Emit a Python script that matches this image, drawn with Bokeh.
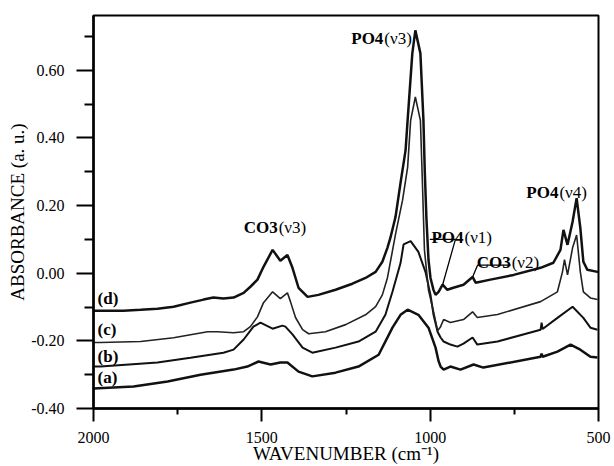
from bokeh.plotting import figure
from bokeh.models import Range1d, FixedTicker, NumeralTickFormatter, Label
from bokeh.embed import file_html
from bokeh.resources import INLINE

# ---- data ----
d_wn = [2000, 1979, 1911, 1860, 1810, 1762, 1712, 1673, 1644, 1614, 1584, 1554, 1534, 1513, 1495, 1468, 1445, 1424,
        1409, 1391, 1364, 1332, 1281, 1231, 1192, 1162, 1142, 1127, 1118, 1103, 1088, 1073, 1067, 1053, 1044, 1029,
        1020, 1016, 1011, 1005, 999, 990, 984, 975, 963, 949, 931, 901, 874, 865, 821, 752, 672, 634, 613, 604, 592,
        577, 565, 554, 545, 533, 503, 500]
d_ab = [-0.111, -0.111, -0.111, -0.108, -0.105, -0.099, -0.087, -0.078, -0.072, -0.075, -0.072, -0.058, -0.040,
        -0.019, 0.019, 0.069, 0.037, 0.054, 0.016, -0.043, -0.070, -0.064, -0.049, -0.031, -0.014, 0.004, 0.034,
        0.075, 0.105, 0.166, 0.267, 0.364, 0.452, 0.650, 0.718, 0.650, 0.452, 0.300, 0.160, 0.040, -0.014, -0.050,
        -0.064, -0.055, -0.034, -0.049, -0.043, -0.034, -0.011, -0.028, -0.019, -0.005, 0.016, 0.031, 0.069, 0.128,
        0.084, 0.152, 0.222, 0.134, 0.034, 0.010, 0.004, 0.004]

c_wn = [2000, 1979, 1860, 1762, 1712, 1661, 1632, 1584, 1554, 1534, 1513, 1495, 1468, 1445, 1424, 1415, 1400, 1379,
        1361, 1311, 1251, 1192, 1162, 1142, 1127, 1118, 1103, 1082, 1067, 1058, 1044, 1029, 1023, 1017, 1005, 990,
        978, 970, 960, 940, 901, 874, 860, 800, 672, 622, 607, 601, 592, 577, 565, 554, 545, 524, 503]
c_ab = [-0.205, -0.205, -0.202, -0.191, -0.182, -0.173, -0.173, -0.176, -0.173, -0.158, -0.129, -0.087, -0.055,
        -0.075, -0.058, -0.084, -0.131, -0.167, -0.179, -0.173, -0.152, -0.123, -0.099, -0.064, -0.014, 0.034, 0.115,
        0.216, 0.313, 0.452, 0.521, 0.452, 0.267, 0.069, -0.050, -0.114, -0.170, -0.160, -0.137, -0.146, -0.137,
        -0.114, -0.131, -0.122, -0.084, -0.055, 0.004, 0.040, -0.005, 0.075, 0.113, 0.004, -0.055, -0.073, -0.078]

b_wn = [2000, 1979, 1810, 1712, 1614, 1584, 1554, 1525, 1504, 1468, 1439, 1430, 1409, 1379, 1350, 1281, 1213, 1162,
        1133, 1112, 1088, 1079, 1058, 1035, 1014, 999, 990, 978, 969, 960, 940, 919, 901, 874, 860, 800, 672, 669,
        666, 622, 577, 545, 524, 503]
b_ab = [-0.276, -0.276, -0.264, -0.250, -0.235, -0.226, -0.196, -0.158, -0.146, -0.164, -0.155, -0.158, -0.181,
        -0.220, -0.235, -0.220, -0.202, -0.173, -0.123, -0.055, 0.030, 0.085, 0.095, 0.063, 0.004, -0.064, -0.123,
        -0.173, -0.190, -0.202, -0.211, -0.217, -0.208, -0.190, -0.211, -0.202, -0.167, -0.146, -0.165, -0.132,
        -0.099, -0.132, -0.161, -0.167]

a_wn = [2000, 1881, 1780, 1682, 1584, 1543, 1510, 1474, 1445, 1424, 1391, 1350, 1281, 1213, 1153, 1112, 1088, 1067,
        1035, 1005, 984, 975, 969, 960, 940, 910, 871, 842, 672, 669, 666, 622, 583, 554, 524, 503]
a_ab = [-0.341, -0.335, -0.320, -0.300, -0.285, -0.276, -0.261, -0.270, -0.264, -0.264, -0.291, -0.305, -0.294,
        -0.276, -0.241, -0.161, -0.123, -0.108, -0.123, -0.161, -0.220, -0.260, -0.276, -0.285, -0.276, -0.285,
        -0.270, -0.279, -0.247, -0.238, -0.247, -0.232, -0.211, -0.226, -0.247, -0.249]

series_names = ["(a)", "(b)", "(c)", "(d)"]
y_ticks = [-0.40, -0.20, 0.00, 0.20, 0.40, 0.60]
y_minor = [-0.30, -0.10, 0.10, 0.30, 0.50, 0.70]
x_ticks = [2000, 1500, 1000, 500]
x_minor = [1750, 1250, 750]

FONT = "Liberation Serif"

p = figure(width=614, height=466, output_backend="svg", toolbar_location=None,
           x_range=Range1d(2000, 500), y_range=Range1d(-0.40, 0.762),
           min_border_left=93, min_border_right=16, min_border_top=15, min_border_bottom=57,
           background_fill_color="white", border_fill_color="white")
p.grid.visible = False
p.outline_line_color = "black"
p.outline_line_width = 2

# curves
p.line(a_wn, a_ab, line_color="#111111", line_width=2.5)
p.line(b_wn, b_ab, line_color="#111111", line_width=2.0)
p.line(c_wn, c_ab, line_color="#222222", line_width=1.6)
p.line(d_wn, d_ab, line_color="#111111", line_width=2.5)

# axes
xa = p.xaxis[0]
xa.ticker = FixedTicker(ticks=x_ticks, minor_ticks=x_minor)
xa.axis_label = "WAVENUMBER (cm\u207b\u00b9)"
ya = p.yaxis[0]
ya.ticker = FixedTicker(ticks=y_ticks, minor_ticks=y_minor)
ya.formatter = NumeralTickFormatter(format="0.00")
ya.axis_label = "ABSORBANCE (a. u.)"
for ax in (xa, ya):
    ax.axis_line_width = 2.5
    ax.axis_line_color = "black"
    ax.major_tick_line_width = 2
    ax.minor_tick_line_width = 2
    ax.major_tick_line_color = "black"
    ax.minor_tick_line_color = "black"
    ax.major_tick_in = 0
    ax.minor_tick_in = 0
    ax.major_label_text_font = FONT
    ax.major_label_text_font_size = "16px"
    ax.major_label_text_color = "black"
    ax.axis_label_text_font = FONT
    ax.axis_label_text_font_style = "normal"
    ax.axis_label_text_font_size = "19px"
    ax.axis_label_text_color = "black"
ya.major_tick_out = 17
ya.minor_tick_out = 9
ya.major_label_standoff = 12
ya.axis_label_standoff = 0
xa.major_tick_out = 13
xa.minor_tick_out = 6
xa.major_label_standoff = 10
xa.axis_label_standoff = -3

# peak annotations: bold part right-aligned, regular part left-aligned at the same anchor
peak_labels = [("PO4", "(\u03bd3)", 1139, 0.694),
               ("CO3", "(\u03bd3)", 1453, 0.134),
               ("PO4", "(\u03bd1)", 901, 0.107),
               ("CO3", "(\u03bd2)", 761, 0.031),
               ("PO4", "(\u03bd4)", 619, 0.240)]
for bold, reg, lx, ly in peak_labels:
    p.add_layout(Label(x=lx, y=ly, text=bold, text_align="right", text_baseline="alphabetic",
                       text_font=FONT, text_font_style="bold", text_font_size="17px", text_color="black"))
    p.add_layout(Label(x=lx, y=ly, text=reg, text_align="left", text_baseline="alphabetic",
                       text_font=FONT, text_font_size="17px", text_color="black", x_offset=1))

# leader lines (underline under the bold part, then to the band on curve (d))
def d_at(wn):
    return d_ab[d_wn.index(wn)]

p.line([1001, 925, 963], [0.100, 0.100, d_at(963)], line_color="black", line_width=1.3)
p.line([761, 859, 874], [0.024, 0.024, d_at(874)], line_color="black", line_width=1.3)

# curve names
name_pos = {"(a)": -0.309, "(b)": -0.247, "(c)": -0.167, "(d)": -0.076}
for nm in series_names:
    p.add_layout(Label(x=1988, y=name_pos[nm], text=nm, text_align="left", text_baseline="middle",
                       text_font=FONT, text_font_style="bold", text_font_size="17px", text_color="black"))

open("out.html", "w").write(file_html(p, INLINE))
